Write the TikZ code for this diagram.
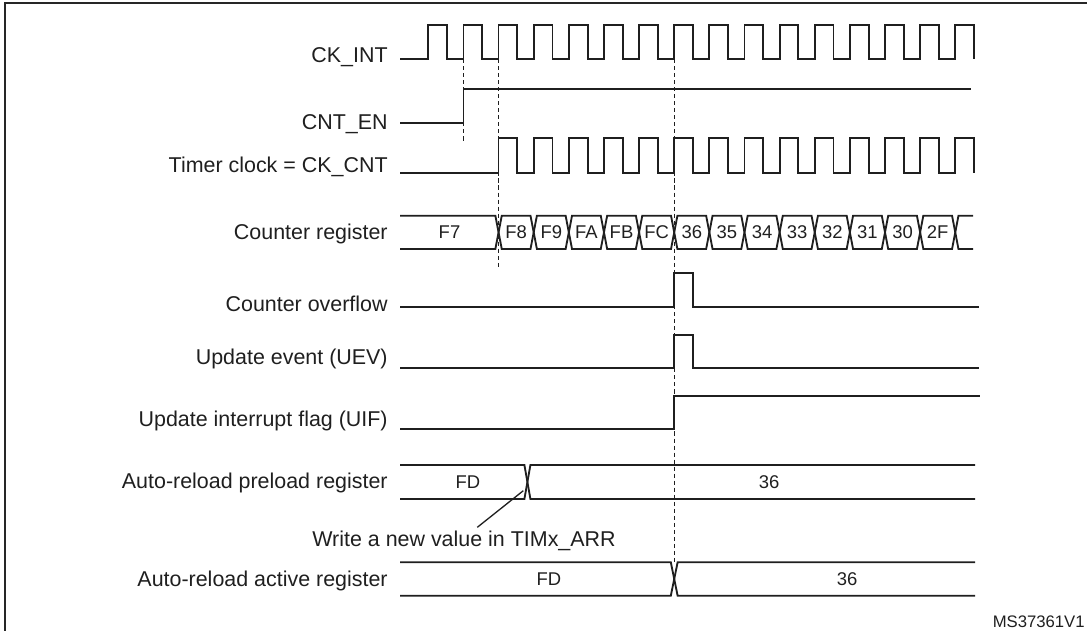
\documentclass[tikz,border=0pt]{standalone}
\usepackage{fontspec}
\setmainfont{Liberation Sans}
\usetikzlibrary{positioning}

\tikzset{
  wave/.style={line width=1.05pt, draw=black!88, line join=miter},
  guide/.style={line width=0.6pt, draw=black!88, dash pattern=on 2.4pt off 1.6pt},
  note/.style={line width=0.75pt, draw=black!88},
  signame/.style={anchor=base east, inner sep=0pt, text=black!88, font=\fontsize{12.2}{14}\selectfont},
  busval/.style={anchor=base, inner sep=0pt, text=black!88, font=\fontsize{10.5}{12}\selectfont},
  declare function={rise(\k)=428.3+35.13*\k;},
}

\begin{document}
\begin{tikzpicture}[x=0.02cm, y=-0.02cm]
	\useasboundingbox (0,0) rectangle (1087,631);
	\begin{scope}
		\draw[line width=1.2pt, black!85] (5,640) -- (5,3) -- (1095,3); % cornice

		\node[signame] (ckint) at (388,62.7) {CK\_INT};
		\node[signame] (cnten) at (388,130) {CNT\_EN};
		\node[signame] (ckcnt) at (388,172.7) {Timer clock = CK\_CNT};
		\node[signame] (cntreg) at (388,240) {Counter register};
		\node[signame] (ovf) at (388,311.7) {Counter overflow};
		\node[signame] (uev) at (388,364.3) {Update event (UEV)};
		\node[signame] (uif) at (388,426) {Update interrupt flag (UIF)};
		\node[signame] (arrpre) at (388,488.3) {Auto-reload preload register};
		\node[signame] (arract) at (388,586) {Auto-reload active register};

		\draw[guide] ({rise(1)},59) -- ({rise(1)},142); % abilitazione
		\draw[guide] ({rise(2)},59) -- ({rise(2)},267); % primo fronte CK_CNT
		\draw[guide] ({rise(7)},59) -- ({rise(7)},562); % overflow

		\draw[wave] (400,59) \foreach \k in {0,...,15} { -- ({rise(\k)},59) -- ({rise(\k)},25) -- ({rise(\k)+18.8},25) -- ({rise(\k)+18.8},59) }; % CK_INT
		\draw[wave] (400,122.7) -- ({rise(1)},122.7) -- ({rise(1)},89) -- (971,89); % CNT_EN
		\draw[wave] (400,173.3) \foreach \k in {2,...,15} { -- ({rise(\k)},173.3) -- ({rise(\k)},138.3) -- ({rise(\k)+18.8},138.3) -- ({rise(\k)+18.8},173.3) }; % CK_CNT

		% registro contatore
		\draw[wave] (400,215.7) \foreach \k in {2,4,...,14} { -- ({rise(\k)-3.2},215.7) -- ({rise(\k)+3.2},249) -- ({rise(\k+1)-3.2},249) -- ({rise(\k+1)+3.2},215.7) } -- (973,215.7);
		\draw[wave] (400,249) \foreach \k in {2,4,...,14} { -- ({rise(\k)-3.2},249) -- ({rise(\k)+3.2},215.7) -- ({rise(\k+1)-3.2},215.7) -- ({rise(\k+1)+3.2},249) } -- (973,249);
		\node[busval] (cntF7) at (449.5,238.5) {F7};
		\foreach \v [count=\i from 2] in {F8,F9,FA,FB,FC,36,35,34,33,32,31,30,2F}
			\node[busval] (cnt\v) at ({(rise(\i)+rise(\i+1))/2},238.5) {\v};

		\draw[wave] (400,306.7) -- ({rise(7)},306.7) -- ({rise(7)},272.7) -- ({rise(7)+18.8},272.7) -- ({rise(7)+18.8},306.7) -- (979,306.7); % overflow
		\draw[wave] (400,368.3) -- ({rise(7)},368.3) -- ({rise(7)},335) -- ({rise(7)+18.8},335) -- ({rise(7)+18.8},368.3) -- (979,368.3); % UEV
		\draw[wave] (400,429.3) -- ({rise(7)},429.3) -- ({rise(7)},396) -- (980,396); % UIF

		% preload
		\draw[wave] (400,465) -- (524.4,465) -- (530.4,499) -- (975,499);
		\draw[wave] (400,499) -- (524.4,499) -- (530.4,465) -- (975,465);
		\node[busval] (preFD) at (468,488) {FD};
		\node[busval] (pre36) at (769,488) {36};

		% active
		\draw[wave] (400,562.3) -- ({rise(7)-3.4},562.3) -- ({rise(7)+3.4},595.7) -- (975,595.7);
		\draw[wave] (400,595.7) -- ({rise(7)-3.4},595.7) -- ({rise(7)+3.4},562.3) -- (975,562.3);
		\node[busval] (actFD) at (549,585) {FD};
		\node[busval] (act36) at (847,585) {36};

		\node[signame, anchor=base] (wrnote) at (464,546) {Write a new value in TIMx\_ARR};
		\coordinate (wrtail) at (477.3,527.3);
		\coordinate (wrhead) at (523.3,490.7);
		\draw[note] (wrtail) -- (wrhead); % scrittura ARR

		\node[anchor=base east, inner sep=0pt, text=black!88, font=\fontsize{9.5}{11}\selectfont] (figid) at (1085,627.5) {MS37361V1};
	\end{scope}
\end{tikzpicture}
\end{document}
